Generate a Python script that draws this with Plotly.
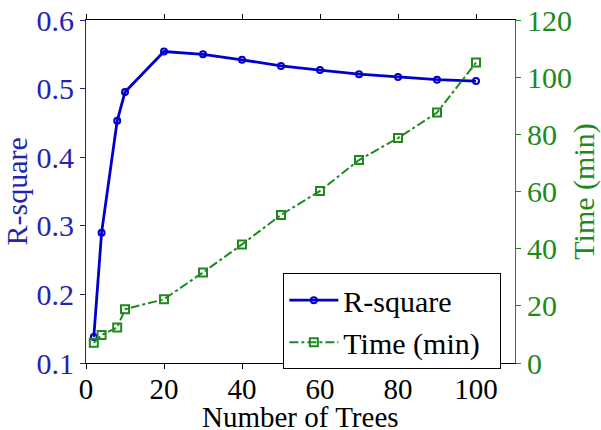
import plotly.graph_objects as go

trees = [2, 4, 8, 10, 20, 30, 40, 50, 60, 70, 80, 90, 100]
r_square = [0.138, 0.290, 0.453, 0.495, 0.554, 0.550, 0.542, 0.533, 0.527, 0.521, 0.517, 0.513, 0.511]
time_min = [7.1, 9.8, 12.4, 18.8, 22.3, 31.7, 41.5, 51.8, 60.2, 71.0, 78.7, 87.6, 105.1]

x_ticks = [0, 20, 40, 60, 80, 100]
y1_ticks = [0.1, 0.2, 0.3, 0.4, 0.5, 0.6]
y2_ticks = [0, 20, 40, 60, 80, 100, 120]

BLUE = "#0000CC"
BLUE_TXT = "#2424B0"
GREEN = "#1E8A1E"
FONT = "Liberation Serif, Times New Roman, serif"

fig = go.Figure()
fig.add_trace(go.Scatter(
    x=trees, y=r_square, name="R-square", mode="lines+markers",
    line=dict(color=BLUE, width=2.8),
    marker=dict(symbol="circle-open", size=6, color=BLUE, line=dict(width=2)),
))
fig.add_trace(go.Scatter(
    x=trees, y=time_min, name="Time (min)\u00a0\u00a0", mode="lines+markers", yaxis="y2",
    line=dict(color=GREEN, width=2, dash="dashdot"),
    marker=dict(symbol="square-open", size=8, color=GREEN, line=dict(width=2)),
))

fig.update_layout(
    width=601, height=430,
    margin=dict(l=86, r=86, t=20, b=67),
    paper_bgcolor="white", plot_bgcolor="white",
    font=dict(family=FONT, size=30, color="black"),
    showlegend=True,
    legend=dict(
        x=0.46, y=0.262, xanchor="left", yanchor="top",
        bgcolor="white", bordercolor="black", borderwidth=1,
        font=dict(family=FONT, size=30, color="black"),
        tracegroupgap=0, itemwidth=49,
    ),
    xaxis=dict(
        range=[0, 110], tickvals=x_ticks, ticktext=[str(v) for v in x_ticks],
        showgrid=False, zeroline=False, showline=True, linecolor="black", linewidth=1,
        mirror="ticks", ticks="outside", ticklen=5, tickcolor="black",
        automargin=False, ticklabelstandoff=-5, tickfont=dict(size=29),
    ),
    yaxis=dict(
        range=[0.1, 0.6], tickvals=y1_ticks, ticktext=[f"{v:.1f}" for v in y1_ticks],
        showgrid=False, zeroline=False, showline=True, linecolor="#2020A0", linewidth=1,
        ticks="outside", ticklen=5, tickcolor="#2020A0", automargin=False,
        tickfont=dict(color=BLUE_TXT, size=30),
    ),
    yaxis2=dict(
        range=[0, 120], tickvals=y2_ticks, ticktext=[str(v) for v in y2_ticks],
        overlaying="y", side="right",
        showgrid=False, zeroline=False, showline=True, linecolor=GREEN, linewidth=1,
        ticks="outside", ticklen=5, tickcolor=GREEN, automargin=False,
        tickfont=dict(color=GREEN, size=30),
        title=dict(text="Time (min)", font=dict(color=GREEN, size=30), standoff=8),
    ),
    annotations=[
        dict(
            text="Number of Trees", xref="paper", yref="paper", x=0.5, y=0,
            xanchor="center", yanchor="top", yshift=-36, showarrow=False,
            font=dict(family=FONT, size=29, color="black"),
        ),
        dict(
            text="R-square", xref="paper", yref="paper", x=0, y=0.5,
            xanchor="center", yanchor="middle", xshift=-70, textangle=-90,
            showarrow=False, font=dict(family=FONT, size=30, color=BLUE_TXT),
        ),
    ],
)

fig.write_html("out.html")
